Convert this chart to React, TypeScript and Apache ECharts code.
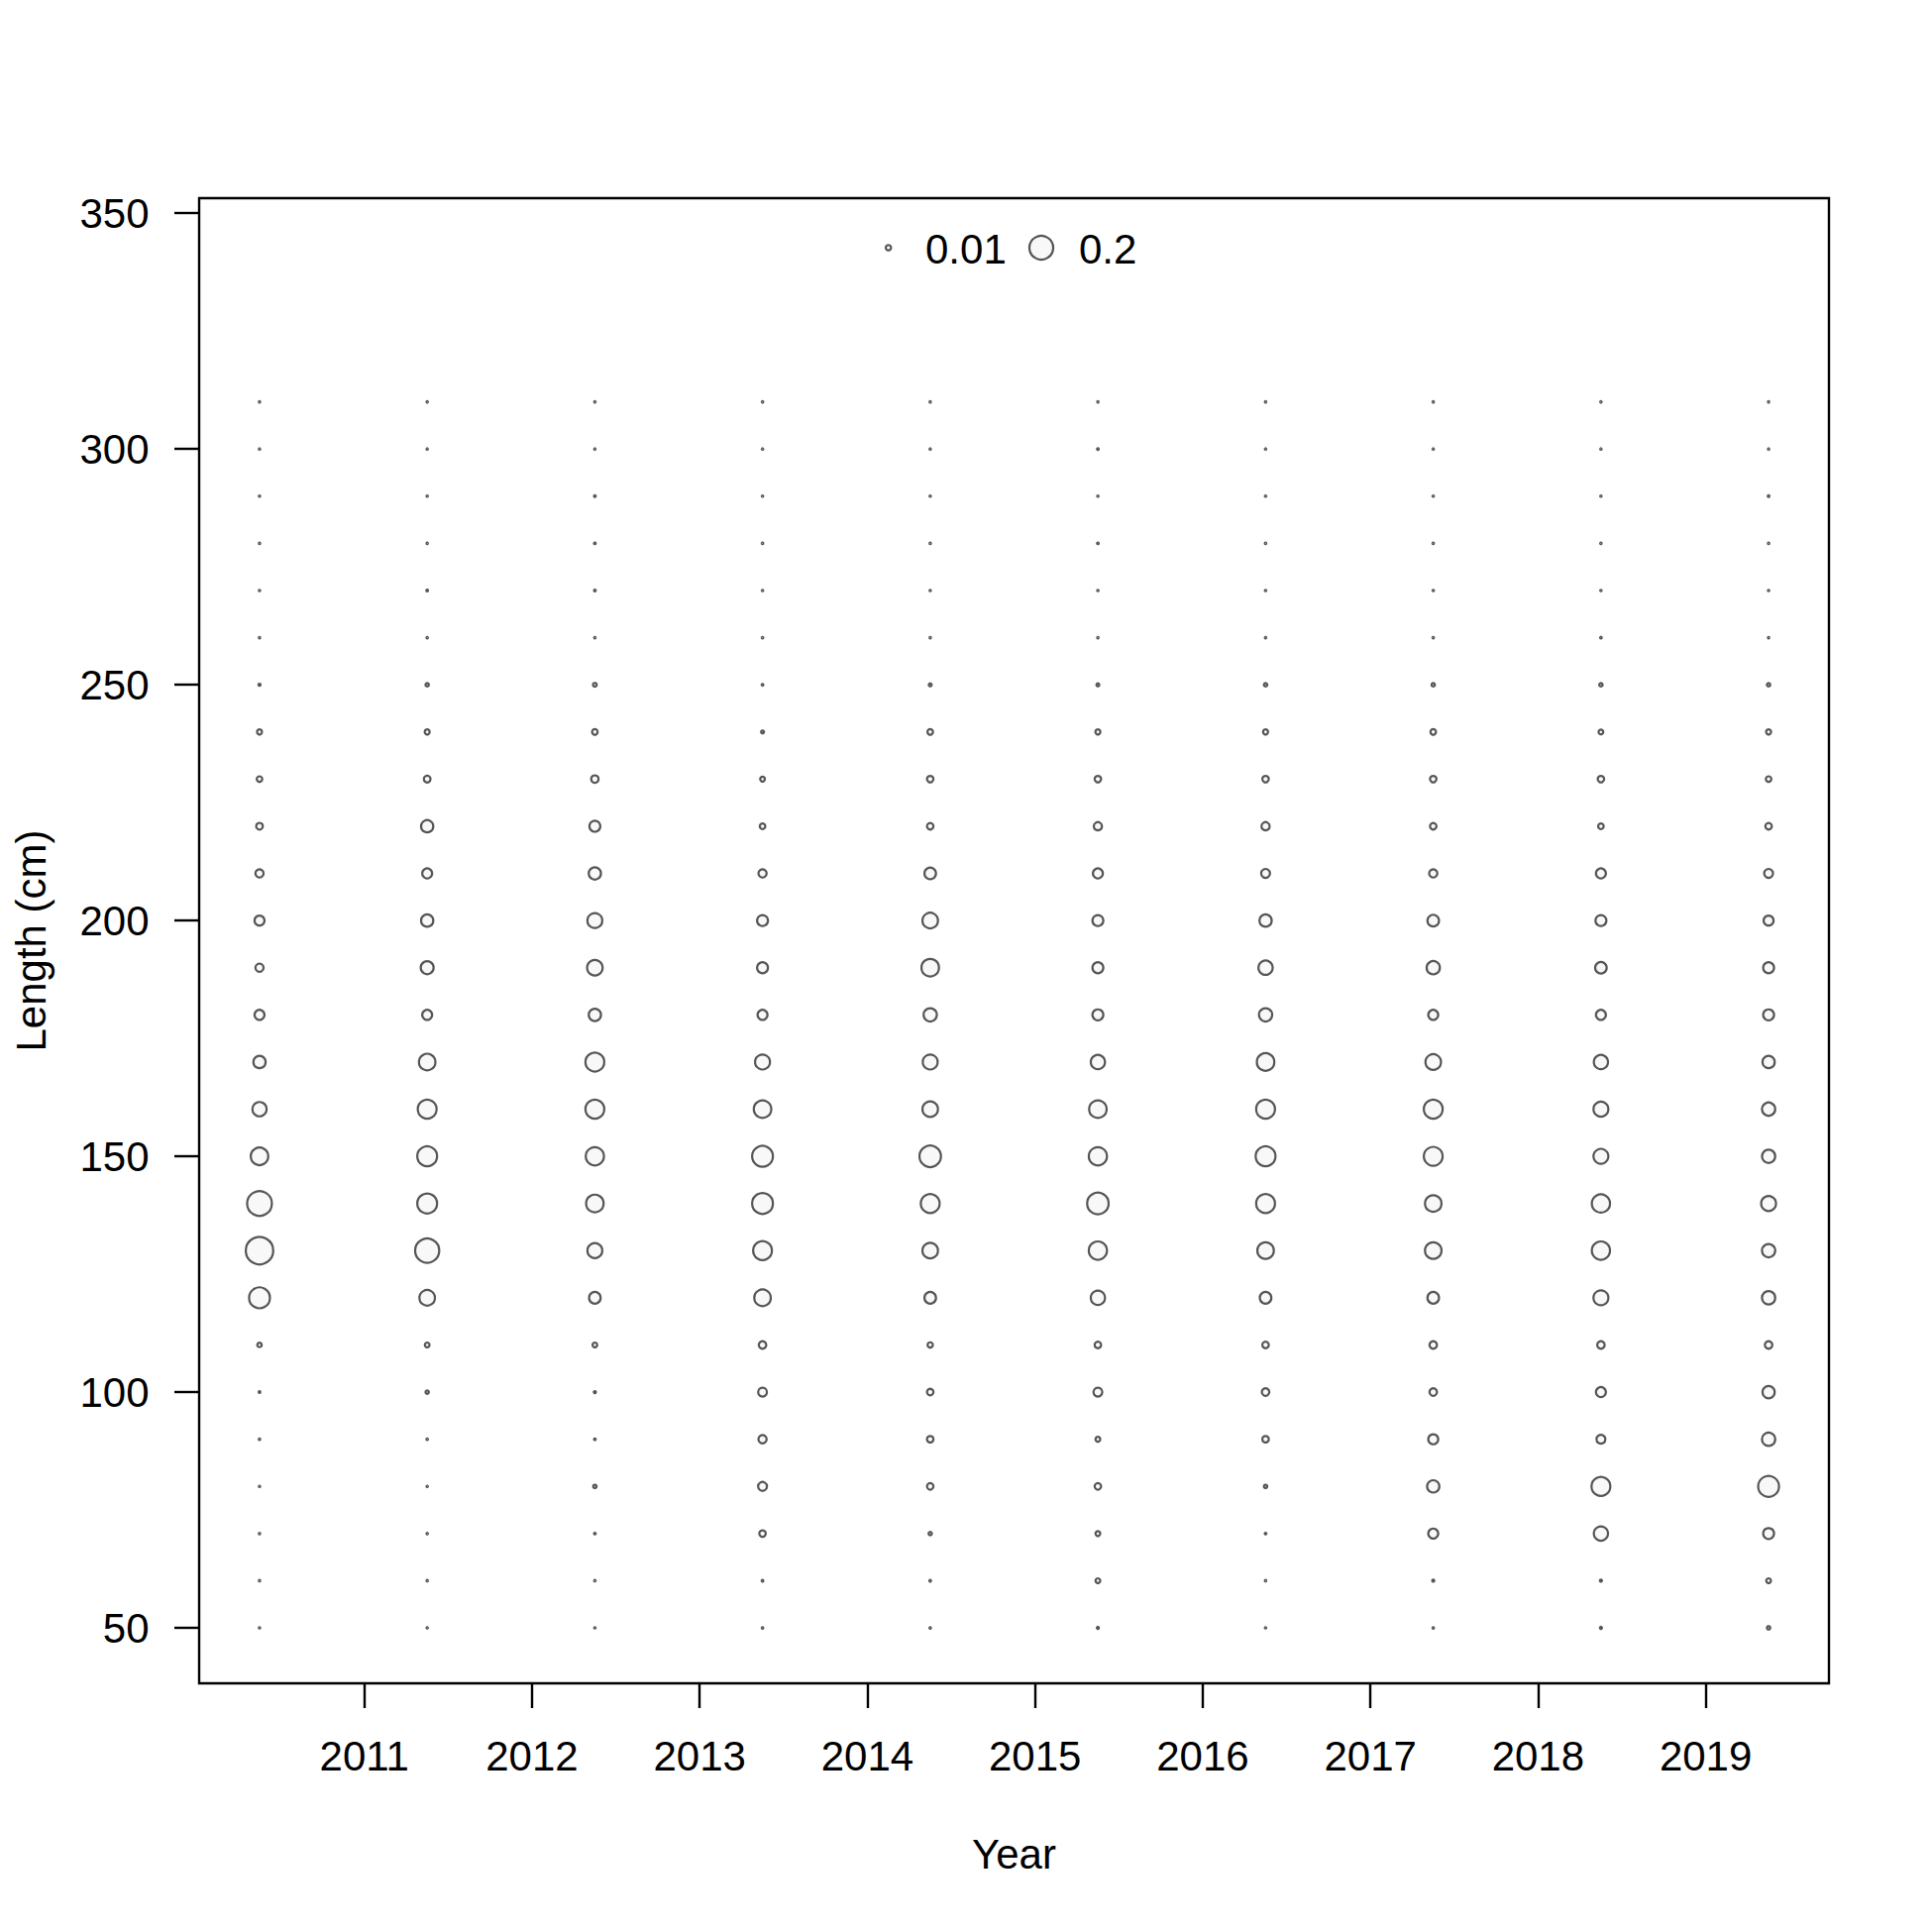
import React, { useEffect, useRef } from "react";
import * as echarts from "echarts";

// Column positions (year + sampling offset) and axis tick years
const columnX = [2010.375, 2011.375, 2012.375, 2013.375, 2014.375, 2015.375, 2016.375, 2017.375, 2018.375, 2019.375];
const yearTicks = [2011, 2012, 2013, 2014, 2015, 2016, 2017, 2018, 2019];
const lengthTicks = [50, 100, 150, 200, 250, 300, 350];
// Length bins (cm), bottom to top
const lengths = [50, 60, 70, 80, 90, 100, 110, 120, 130, 140, 150, 160, 170, 180, 190, 200, 210, 220, 230, 240, 250, 260, 270, 280, 290, 300, 310];

// Proportions per year, ordered as `lengths`
const p2010 = [0.0007, 0.0007, 0.0007, 0.0007, 0.0008, 0.001, 0.007, 0.153, 0.265, 0.216, 0.108, 0.071, 0.053, 0.035, 0.024, 0.035, 0.024, 0.016, 0.011, 0.009, 0.0015, 0.0007, 0.0007, 0.0007, 0.0007, 0.0007, 0.0007];
const p2011 = [0.0007, 0.0007, 0.0007, 0.0007, 0.0008, 0.004, 0.008, 0.085, 0.205, 0.139, 0.139, 0.125, 0.096, 0.035, 0.059, 0.053, 0.035, 0.053, 0.016, 0.009, 0.004, 0.0007, 0.001, 0.0007, 0.0007, 0.0007, 0.0007];
const p2012 = [0.0007, 0.0007, 0.001, 0.004, 0.001, 0.0015, 0.008, 0.047, 0.078, 0.108, 0.117, 0.125, 0.125, 0.053, 0.085, 0.078, 0.053, 0.042, 0.02, 0.011, 0.005, 0.0007, 0.001, 0.001, 0.001, 0.0007, 0.0007];
const p2013 = [0.0008, 0.001, 0.015, 0.028, 0.024, 0.028, 0.02, 0.096, 0.125, 0.153, 0.153, 0.108, 0.078, 0.035, 0.042, 0.042, 0.024, 0.011, 0.008, 0.003, 0.001, 0.0007, 0.0007, 0.0007, 0.0007, 0.0007, 0.0007];
const p2014 = [0.0008, 0.001, 0.004, 0.015, 0.015, 0.015, 0.01, 0.047, 0.085, 0.125, 0.163, 0.085, 0.078, 0.062, 0.108, 0.085, 0.047, 0.015, 0.015, 0.011, 0.003, 0.0007, 0.0007, 0.0007, 0.0007, 0.0007, 0.0007];
const p2015 = [0.0015, 0.008, 0.008, 0.015, 0.008, 0.028, 0.015, 0.071, 0.117, 0.163, 0.117, 0.108, 0.071, 0.042, 0.042, 0.042, 0.035, 0.024, 0.015, 0.009, 0.003, 0.0007, 0.0007, 0.001, 0.0007, 0.001, 0.0007];
const p2016 = [0.0007, 0.0007, 0.001, 0.004, 0.015, 0.02, 0.015, 0.047, 0.096, 0.125, 0.139, 0.125, 0.108, 0.062, 0.071, 0.053, 0.028, 0.024, 0.015, 0.009, 0.004, 0.0007, 0.0007, 0.0007, 0.0007, 0.0007, 0.0007];
const p2017 = [0.0008, 0.0015, 0.035, 0.053, 0.035, 0.02, 0.02, 0.047, 0.096, 0.096, 0.125, 0.125, 0.085, 0.035, 0.062, 0.047, 0.024, 0.015, 0.015, 0.011, 0.004, 0.0007, 0.0007, 0.0007, 0.0007, 0.0007, 0.0007];
const p2018 = [0.0015, 0.0015, 0.071, 0.125, 0.028, 0.035, 0.02, 0.078, 0.117, 0.117, 0.078, 0.078, 0.071, 0.035, 0.047, 0.042, 0.035, 0.011, 0.015, 0.008, 0.004, 0.001, 0.0007, 0.0007, 0.0007, 0.0007, 0.0007];
const p2019 = [0.004, 0.008, 0.042, 0.153, 0.062, 0.053, 0.02, 0.062, 0.062, 0.078, 0.062, 0.062, 0.053, 0.042, 0.042, 0.035, 0.028, 0.015, 0.011, 0.009, 0.004, 0.0007, 0.0007, 0.0007, 0.001, 0.0007, 0.0007];
const proportions = [p2010, p2011, p2012, p2013, p2014, p2015, p2016, p2017, p2018, p2019];

const legendValues = [0.01, 0.2];
const legendLabels = ["0.01", "0.2"];

const FONT = "'Liberation Sans', Arial, sans-serif";
const RING = "#555555";
const RING_W = 2.2;
const SIZE_K = 53.8; // diameter per sqrt(proportion)
const sizeOf = (v: number) => SIZE_K * Math.sqrt(v);

export default function App() {
  const ref = useRef<HTMLDivElement>(null);
  useEffect(() => {
    if (!ref.current) return;
    const chart = echarts.init(ref.current, null, { renderer: "svg" });
    const data: number[][] = [];
    columnX.forEach((x, i) => {
      lengths.forEach((len, j) => data.push([x, len, proportions[i][j]]));
    });
    const legendX = [896.7, 1051];
    const legendTextX = [934, 1089];
    const graphics: any[] = [];
    legendValues.forEach((v, i) => {
      graphics.push({
        type: "circle",
        shape: { cx: legendX[i], cy: 250, r: sizeOf(v) / 2 },
        style: { fill: "#f8f8f8", stroke: RING, lineWidth: RING_W },
      });
      graphics.push({
        type: "text",
        x: legendTextX[i],
        y: 251.5,
        style: { text: legendLabels[i], font: `42px ${FONT}`, fill: "#000", textAlign: "left", textVerticalAlign: "middle" },
      });
    });
    graphics.push({
      type: "text",
      x: 1023.5,
      y: 1871.6,
      style: { text: "Year", font: `42px ${FONT}`, fill: "#000", textAlign: "center", textVerticalAlign: "middle" },
    });
    graphics.push({
      type: "text",
      x: 31,
      y: 949.5,
      rotation: Math.PI / 2,
      style: { text: "Length (cm)", font: `42px ${FONT}`, fill: "#000", textAlign: "center", textVerticalAlign: "middle" },
    });
    chart.setOption({
      animation: false,
      backgroundColor: "#ffffff",
      grid: { left: 201, right: 104, top: 200, bottom: 251, show: true, borderColor: "#000", borderWidth: 2.4, backgroundColor: "transparent" },
      xAxis: {
        type: "value",
        min: 2010.015,
        max: 2019.735,
        splitLine: { show: false },
        axisLine: { show: false },
        axisTick: { show: true, length: 25, lineStyle: { color: "#000", width: 2.4 }, customValues: yearTicks },
        axisLabel: { show: true, margin: 52, fontSize: 42, fontFamily: FONT, color: "#000", customValues: yearTicks, formatter: (v: number) => String(v) },
      },
      yAxis: {
        type: "value",
        min: 38.24,
        max: 353.2,
        splitLine: { show: false },
        axisLine: { show: false },
        axisTick: { show: true, length: 25, lineStyle: { color: "#000", width: 2.4 }, customValues: lengthTicks },
        axisLabel: { show: true, margin: 50.5, fontSize: 42, fontFamily: FONT, color: "#000", customValues: lengthTicks, formatter: (v: number) => String(v) },
      },
      series: [
        {
          type: "scatter",
          data,
          symbol: "circle",
          symbolSize: (d: number[]) => sizeOf(d[2]),
          itemStyle: { color: "#f8f8f8", borderColor: RING, borderWidth: RING_W, opacity: 1 },
          emphasis: { disabled: true },
          silent: true,
        },
      ],
      graphic: graphics,
    });
    return () => chart.dispose();
  }, []);
  return <div ref={ref} style={{ position: "absolute", left: 0, top: 0, width: 1950, height: 1950 }} />;
}
